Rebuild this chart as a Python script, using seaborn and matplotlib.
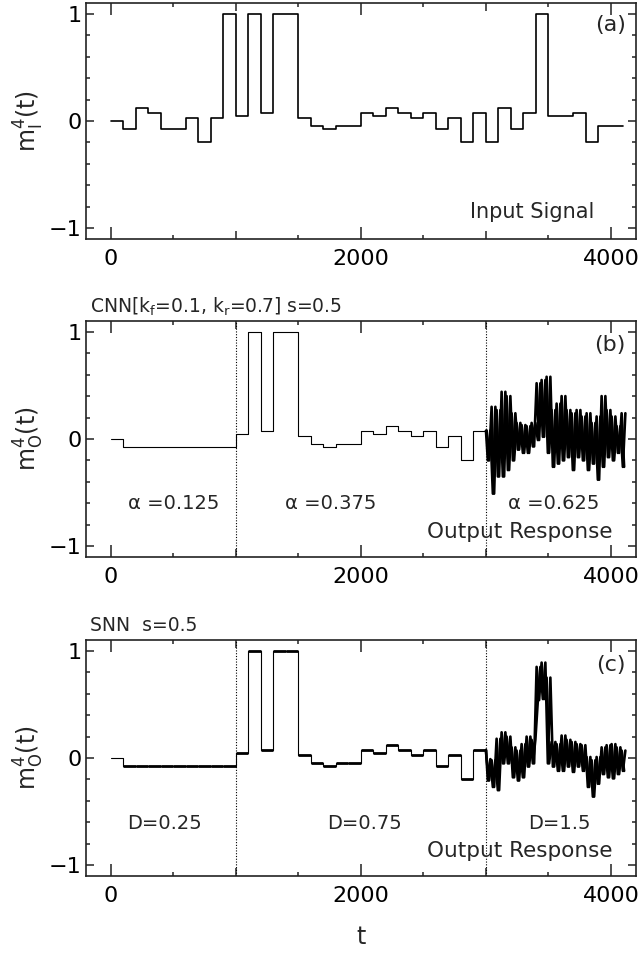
import numpy as np
import pandas as pd
import matplotlib
matplotlib.use("Agg")
import matplotlib.pyplot as plt
import seaborn as sns

# ------------------------------------------------------------
# data (t in steps of 100)
# ------------------------------------------------------------
input_levels = [0, -0.075, 0.125, 0.075, -0.075, -0.075, 0.025, -0.2, 0.025, 1,
                0.05, 1, 0.075, 1, 1, 0.025, -0.05, -0.075, -0.05, -0.05,
                0.075, 0.05, 0.125, 0.075, 0.025, 0.075, -0.075, 0.025, -0.2, 0.075,
                -0.2, 0.125, -0.075, 0.075, 1, 0.05, 0.05, 0.075, -0.2, -0.05, -0.05]

# output (both networks) for t = 0 .. 3000, steps of 100
output_levels = [0, -0.075, -0.075, -0.075, -0.075, -0.075, -0.075, -0.075, -0.075, -0.075,
                 0.05, 1, 0.075, 1, 1, 0.025, -0.05, -0.075, -0.05, -0.05,
                 0.075, 0.05, 0.125, 0.075, 0.025, 0.075, -0.075, 0.025, -0.2, 0.075]

# noisy part t = 3000 .. 4100, upper / lower swing per 40-step bin
cnn_hi = [0.08, 0.30, 0.27, 0.44, 0.40, 0.24, 0.15, 0.13, 0.12, 0.15, 0.52, 0.55, 0.58, 0.27,
          0.33, 0.40, 0.27, 0.24, 0.27, 0.21, 0.24, 0.15, 0.21, 0.40, 0.27, 0.21, 0.12, 0.24]
cnn_lo = [-0.20, -0.51, -0.35, -0.35, -0.29, -0.20, -0.10, -0.13, -0.13, -0.07, -0.01, 0.02, -0.13, -0.26,
          -0.23, -0.20, -0.17, -0.29, -0.17, -0.20, -0.29, -0.23, -0.38, -0.26, -0.17, -0.20, -0.13, -0.26]

snn_hi = [-0.01, -0.02, 0.18, 0.24, 0.20, 0.10, 0.07, 0.13, 0.20, 0.17, 0.85, 0.89, 0.75, 0.15,
          0.13, 0.21, 0.17, 0.15, 0.13, 0.12, 0.01, -0.02, 0.01, 0.10, 0.12, 0.13, 0.10, 0.07]
snn_lo = [-0.21, -0.27, -0.30, -0.05, -0.05, -0.18, -0.21, -0.18, -0.08, -0.05, 0.54, 0.55, -0.05, -0.08,
          -0.12, -0.12, -0.08, -0.13, -0.08, -0.12, -0.27, -0.36, -0.24, -0.15, -0.18, -0.19, -0.15, -0.12]

alpha_labels = ["α =0.125", "α =0.375", "α =0.625"]
d_labels = ["D=0.25", "D=0.75", "D=1.5"]
alpha_t = [500, 1760, 3545]
d_t = [430, 2030, 3590]
region_edges = [1000, 3000]

STEP = 100
BIN = 40


def step_frame(levels):
    t = np.arange(len(levels) + 1) * STEP
    return pd.DataFrame({"t": t, "m": list(levels) + [levels[-1]]})


def noise_frame(t0, prev, first, second, offset):
    t, m = [t0], [prev]
    for i, (a, b) in enumerate(zip(first, second)):
        t += [t0 + BIN * i + offset, t0 + BIN * i + offset + BIN // 2]
        m += [a, b]
    return pd.DataFrame({"t": t, "m": m})


def draw_noise(ax, t0, prev, hi, lo):
    # two interleaved swings between the read upper / lower values
    for first, second, off in ((hi, lo, 5), (lo, hi, 15)):
        sns.lineplot(data=noise_frame(t0, prev, first, second, off), x="t", y="m", ax=ax,
                     color="black", lw=1.9, estimator=None, sort=False)


sns.set_theme(style="ticks")
plt.rcParams["font.family"] = ["DejaVu Sans"]
plt.rcParams["mathtext.fontset"] = "dejavusans"

fig = plt.figure(figsize=(6.43, 9.57), dpi=100)
ax_a = fig.add_axes([0.1337, 0.7503, 0.8554, 0.2466])
ax_b = fig.add_axes([0.1337, 0.4180, 0.8554, 0.2466])
ax_c = fig.add_axes([0.1337, 0.0846, 0.8554, 0.2466])
axes = [ax_a, ax_b, ax_c]

t_split = len(output_levels) * STEP

# (a) input
sns.lineplot(data=step_frame(input_levels), x="t", y="m", ax=ax_a, color="black",
             lw=1.2, drawstyle="steps-post", estimator=None, sort=False)

# (b) CNN output
sns.lineplot(data=step_frame(output_levels), x="t", y="m", ax=ax_b,
             color="black", lw=0.8, drawstyle="steps-post", estimator=None, sort=False)
draw_noise(ax_b, t_split, output_levels[-1], cnn_hi, cnn_lo)

# (c) SNN output, small jitter shown as thicker plateaus
sns.lineplot(data=step_frame(output_levels), x="t", y="m", ax=ax_c,
             color="black", lw=0.8, drawstyle="steps-post", estimator=None, sort=False)
draw_noise(ax_c, t_split, output_levels[-1], snn_hi, snn_lo)
edges = np.arange(len(output_levels) + 1) * STEP
ax_c.hlines(output_levels[1:], edges[1:-1], edges[2:], color="black", lw=2.0)

for ax in (ax_b, ax_c):
    for x in region_edges:
        ax.axvline(x, color="black", lw=0.8, ls=(0, (1, 1.5)))

for ax in axes:
    ax.set_xlim(-200, 4200)
    ax.set_ylim(-1.1, 1.1)
    ax.set_xticks([0, 2000, 4000])
    ax.set_xticks([500, 1000, 1500, 2500, 3000, 3500], minor=True)
    ax.set_yticks([-1, 0, 1])
    ax.set_yticks([-0.8, -0.6, -0.4, -0.2, 0.2, 0.4, 0.6, 0.8], minor=True)
    ax.set_yticklabels(["\u22121", "0", "1"])
    ax.tick_params(which="both", direction="in", top=True, right=True,
                   color="#222222", width=1.1, labelsize=16, labelcolor="black")
    ax.tick_params(axis="x", which="major", length=8.6, pad=7)
    ax.tick_params(axis="x", which="minor", length=2.9)
    ax.tick_params(axis="y", which="major", length=5.8, pad=3)
    ax.tick_params(axis="y", which="minor", length=3.2)
    for s in ax.spines.values():
        s.set_linewidth(1.2)
        s.set_color("#222222")
    ax.set_xlabel("")

ax_a.set_ylabel(r"m$_\mathregular{I}^\mathregular{4}$(t)", fontsize=17, labelpad=2)
ax_b.set_ylabel(r"m$_\mathregular{O}^\mathregular{4}$(t)", fontsize=17, labelpad=2)
ax_c.set_ylabel(r"m$_\mathregular{O}^\mathregular{4}$(t)", fontsize=17, labelpad=2)
ax_c.set_xlabel("t", fontsize=17, labelpad=14)

ax_a.text(4120, 0.89, "(a)", ha="right", va="center", fontsize=16)
ax_b.text(4120, 0.88, "(b)", ha="right", va="center", fontsize=16)
ax_c.text(4120, 0.87, "(c)", ha="right", va="center", fontsize=16)

ax_a.text(3870, -0.85, "Input Signal", ha="right", va="center", fontsize=15)
ax_b.text(4016, -0.87, "Output Response", ha="right", va="center", fontsize=15.5)
ax_c.text(4016, -0.87, "Output Response", ha="right", va="center", fontsize=15.5)

for t, s in zip(alpha_t, alpha_labels):
    ax_b.text(t, -0.60, s, ha="center", va="center", fontsize=14)
for t, s in zip(d_t, d_labels):
    ax_c.text(t, -0.61, s, ha="center", va="center", fontsize=14)

ax_b.text(0.007, 1.06, r"CNN[k$_\mathregular{f}$=0.1, k$_\mathregular{r}$=0.7] s=0.5",
          transform=ax_b.transAxes, ha="left", va="center", fontsize=13.5)
ax_c.text(0.007, 1.06, "SNN  s=0.5", transform=ax_c.transAxes,
          ha="left", va="center", fontsize=13.5)

# medium-length ticks at 1000 and 3000
fig.canvas.draw()
for ax in axes:
    for tk in ax.xaxis.get_minor_ticks():
        if tk.get_loc() % 1000 == 0:
            tk.tick1line.set_markersize(5.8)
            tk.tick2line.set_markersize(5.8)

fig.savefig("out.png", dpi=100)
